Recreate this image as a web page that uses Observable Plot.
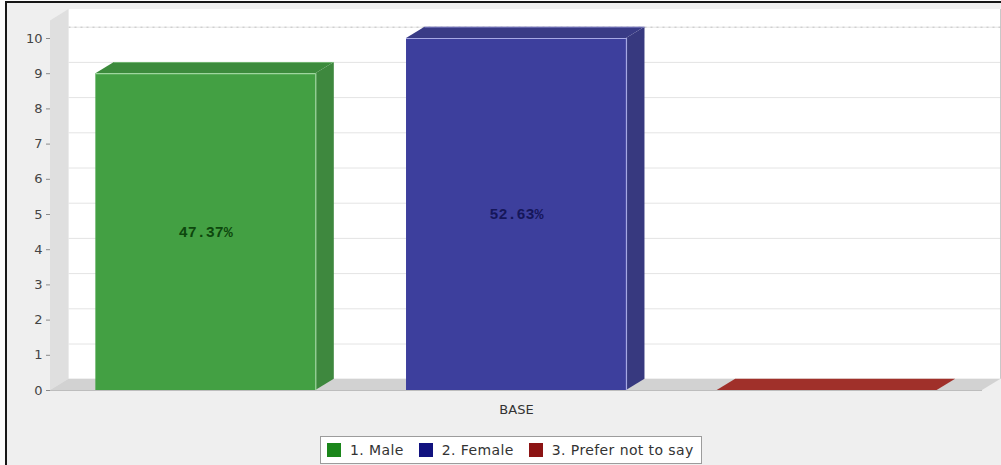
<!DOCTYPE html>
<html>
<head>
<meta charset="utf-8">
<script src="https://cdn.jsdelivr.net/npm/d3@7"></script>
<script src="https://cdn.jsdelivr.net/npm/@observablehq/plot@0.6"></script>
<style>
  html, body { margin: 0; padding: 0; background: #fbfbfb; width: 1001px; height: 465px; overflow: hidden; font-family: "DejaVu Sans", sans-serif; }
  #frame { position: absolute; left: 5px; top: 1px; width: 1010px; height: 480px; border-left: 2px solid #161616; border-top: 2px solid #161616; background: #efefef; }
  #chart { position: absolute; left: 0; top: 0; }
  #legend { position: absolute; left: 320px; top: 436px; height: 28px; box-sizing: border-box; border: 1px solid #9c9c9c; background: #fff;
            display: flex; align-items: center; padding: 0 7px 0 6px; font-size: 14px; letter-spacing: 0.4px; color: #333; white-space: nowrap; }
  .item { display: flex; align-items: center; margin-right: 15px; }
  .item:last-child { margin-right: 0; }
  .sw { width: 14px; height: 14px; margin-right: 9px; }
</style>
</head>
<body>
<div id="frame"></div>
<div id="chart"></div>
<div id="legend"></div>
<script>
// Respondent counts by gender for the BASE group
const categories = ["BASE"];
const series = ["1. Male", "2. Female", "3. Prefer not to say"];
const counts = [9, 10, 0];
const yTicks = [0, 1, 2, 3, 4, 5, 6, 7, 8, 9, 10];

// Face colours per series: front, top, side, highlight edge, value label, legend swatch
const palette = [
  {front: "#43a043", top: "#3c8b3c", side: "#3e883e", edge: "#9ed69e", label: "#0d470d", swatch: "#1b861b"},
  {front: "#3d3f9d", top: "#393b86", side: "#37397f", edge: "#a6a8e4", label: "#15165a", swatch: "#11127f"},
  {front: "#a3302b", top: "#a0302a", side: "#862622", edge: "#d88a86", label: "#4a0c0a", swatch: "#8c1414"}
];

// Layout of the pseudo-3D box
const W = 1001, H = 420, mL = 50, mR = 19, mT = 20.4, mB = 30;
const yMax = 10.5;
const depthPx = [18.5, 11.3];          // horizontal / vertical depth offset of the back plane
const barHalf = 0.354;                 // half bar width, as a fraction of a series slot
const xUnit = (W - mL - mR) / series.length;
const yUnit = (H - mT - mB) / yMax;
const DX = depthPx[0] / xUnit;
const DY = depthPx[1] / yUnit;
const nX = series.length;

const total = d3.sum(counts);
const bars = series.map((name, i) => ({
  name, i,
  value: counts[i],
  xc: i + 0.5,
  x1: i + 0.5 - barHalf,
  x2: i + 0.5 + barHalf,
  pct: (counts[i] / total * 100).toFixed(2) + "%"
}));

const barMarks = bars.flatMap(b => {
  const c = palette[b.i];
  const m = [];
  if (b.value > 0) {
    // right side face
    m.push(Plot.areaY([{x: b.x2, y1: 0, y2: b.value}, {x: b.x2 + DX, y1: DY, y2: b.value + DY}],
      {x: "x", y1: "y1", y2: "y2", fill: c.side}));
  }
  // top face
  m.push(Plot.areaX([{y: b.value, x1: b.x1, x2: b.x2}, {y: b.value + DY, x1: b.x1 + DX, x2: b.x2 + DX}],
    {y: "y", x1: "x1", x2: "x2", fill: c.top}));
  if (b.value > 0) {
    // faint highlight along the back edge of the top face
    m.push(Plot.ruleY([b], {y: d => d.value + DY, x1: d => d.x1 + DX, x2: d => d.x2 + DX, stroke: c.edge, strokeOpacity: 0.6}));
    // front face with light top and right edges
    m.push(Plot.rect([b], {x1: "x1", x2: "x2", y1: 0, y2: "value", fill: c.front}));
    m.push(Plot.ruleY([b], {y: "value", x1: "x1", x2: "x2", stroke: c.edge, strokeWidth: 1.2}));
    m.push(Plot.ruleX([b], {x: "x2", y1: 0, y2: "value", stroke: c.edge, strokeWidth: 1.2}));
    m.push(Plot.text([b], {
      x: "xc", y: d => d.value / 2, text: "pct", fill: c.label,
      fontFamily: "Liberation Mono", fontWeight: "bold", fontSize: 15
    }));
  }
  return m;
});

const chart = Plot.plot({
  width: W, height: H,
  marginLeft: mL, marginRight: mR, marginTop: mT, marginBottom: mB,
  style: {background: "transparent", fontFamily: "DejaVu Sans", fontSize: "13px"},
  x: {domain: [0, nX], axis: null},
  y: {domain: [0, yMax]},
  marks: [
    // back wall and its gridlines
    Plot.rect([0], {x1: DX, x2: nX + DX, y1: DY, y2: yMax + DY, fill: "#ffffff"}),
    Plot.ruleY(yTicks.slice(1), {y: t => t + DY, x1: DX, x2: nX + DX, stroke: "#e4e4e4"}),
    Plot.ruleY([yTicks[yTicks.length - 1]], {y: t => t + DY, x1: DX, x2: nX + DX, stroke: "#c4c4c4", strokeDasharray: "2,4"}),
    Plot.ruleX([nX + DX], {y1: DY, y2: yMax + DY, stroke: "#b8b8b8", strokeWidth: 1.5}),
    // left wall
    Plot.areaY([{x: 0, y1: 0, y2: yMax}, {x: DX, y1: DY, y2: yMax + DY}],
      {x: "x", y1: "y1", y2: "y2", fill: "#dfdfdf"}),
    // floor
    Plot.areaX([{y: 0, x1: 0, x2: nX}, {y: DY, x1: DX, x2: nX + DX}],
      {y: "y", x1: "x1", x2: "x2", fill: "#d2d2d2"}),
    Plot.ruleY([0], {x1: 0, x2: nX, stroke: "#bdbdbd"}),
    ...barMarks,
    Plot.axisY(yTicks, {tickSize: 4, tickPadding: 4, stroke: "#8a8a8a", fill: "#444", label: null}),
    Plot.text(categories, {x: nX / 2, frameAnchor: "bottom", lineAnchor: "middle", dy: 19, fontSize: 13, fill: "#333"})
  ]
});
document.getElementById("chart").appendChild(chart);

// Legend
const legend = d3.select("#legend");
series.forEach((s, i) => {
  const item = legend.append("div").attr("class", "item");
  item.append("div").attr("class", "sw").style("background", palette[i].swatch);
  item.append("span").text(s);
});
</script>
</body>
</html>
